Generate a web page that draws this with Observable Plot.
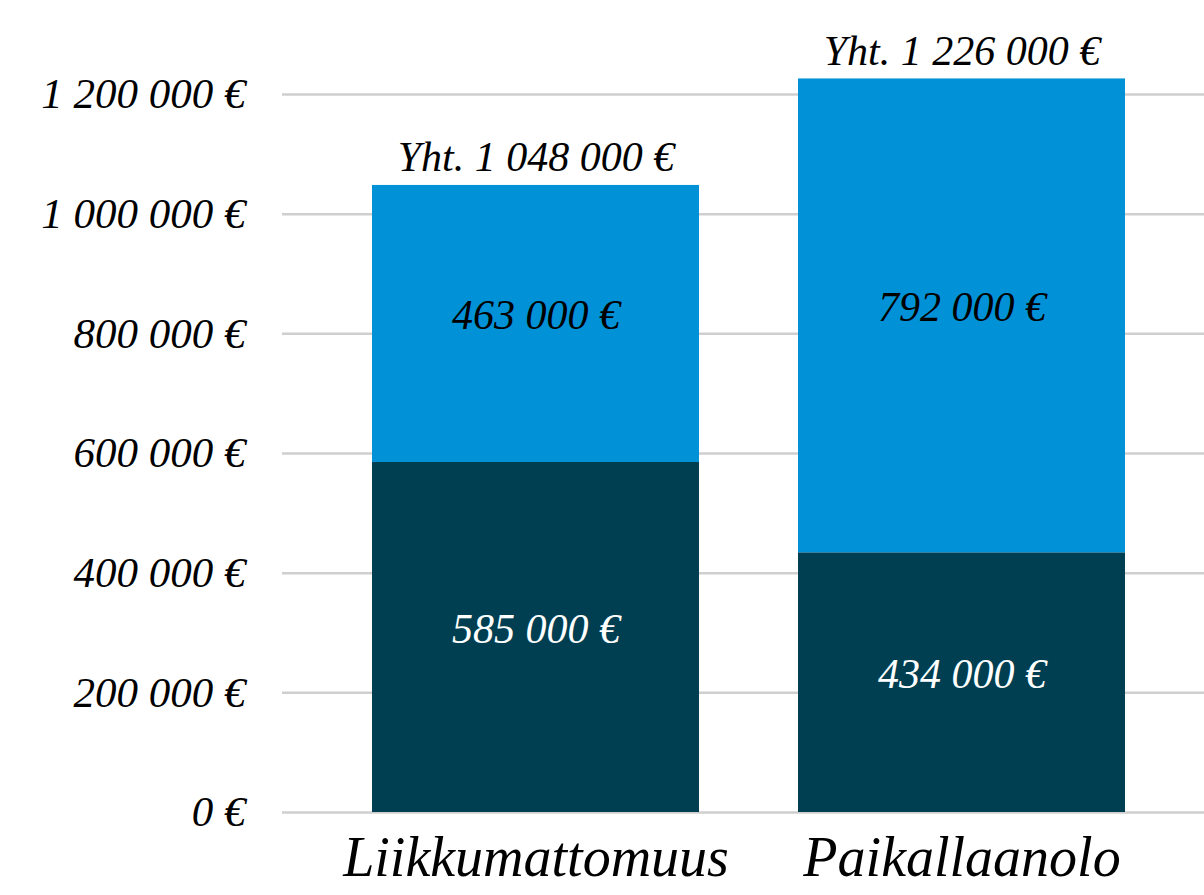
<!DOCTYPE html>
<html>
<head>
<meta charset="utf-8">
<script src="https://cdn.jsdelivr.net/npm/d3@7"></script>
<script src="https://cdn.jsdelivr.net/npm/@observablehq/plot@0.6"></script>
<style>
  html, body { margin: 0; padding: 0; background: #fff; }
  #chart { width: 1204px; height: 895px; }
</style>
</head>
<body>
<div id="chart"></div>
<script>
const categories = ["Liikkumattomuus", "Paikallaanolo"];
const lowerValues = [585000, 434000];   // dark segment
const upperValues = [463000, 792000];   // light segment
const yTicks = [0, 200000, 400000, 600000, 800000, 1000000, 1200000];
const totalPrefix = "Yht. ";

const darkColor = "#003F51";
const lightColor = "#0091D6";

const locale = d3.formatLocale({decimal: ",", thousands: "\u00a0", grouping: [3], currency: ["", "\u00a0€"]});
const fmt = v => locale.format(",")(v) + "\u00a0€";

const segs = [];
categories.forEach((c, i) => {
  segs.push({cat: c, y1: 0, y2: lowerValues[i], value: lowerValues[i], layer: "low"});
  segs.push({cat: c, y1: lowerValues[i], y2: lowerValues[i] + upperValues[i], value: upperValues[i], layer: "high"});
});
const totals = categories.map((c, i) => ({cat: c, total: lowerValues[i] + upperValues[i]}));

const font = "'Liberation Serif', 'DejaVu Serif', serif";

const chart = Plot.plot({
  width: 1204,
  height: 895,
  marginLeft: 282,
  marginRight: 0,
  marginTop: 94,
  marginBottom: 83,
  style: {fontFamily: font, fontStyle: "italic", background: "#fff", overflow: "visible"},
  x: {domain: categories, range: [372, 1126], paddingInner: 0.232, paddingOuter: 0, label: null},
  y: {domain: [0, 1200000], ticks: yTicks, label: null},
  marks: [
    Plot.gridY(yTicks, {stroke: "#cfcfcf", strokeOpacity: 1, strokeWidth: 2.5}),
    Plot.barY(segs, {x: "cat", y1: "y1", y2: "y2", fill: d => d.layer === "low" ? darkColor : lightColor}),
    Plot.text(segs, {x: "cat", y: d => (d.y1 + d.y2) / 2, text: d => fmt(d.value), fill: d => d.layer === "low" ? "#fff" : "#000", fontSize: 42, dy: -8}),
    Plot.text(totals, {x: "cat", y: "total", text: d => totalPrefix + fmt(d.total), fill: "#000", fontSize: 42, lineAnchor: "bottom", dy: -14}),
    Plot.axisY({ticks: yTicks, tickFormat: fmt, tickSize: 0, tickPadding: 37, fontSize: 43, label: null, fill: "#000"}),
    Plot.axisX({tickSize: 0, tickPadding: 24, fontSize: 56, label: null, fill: "#000"})
  ]
});
document.getElementById("chart").appendChild(chart);
</script>
</body>
</html>
